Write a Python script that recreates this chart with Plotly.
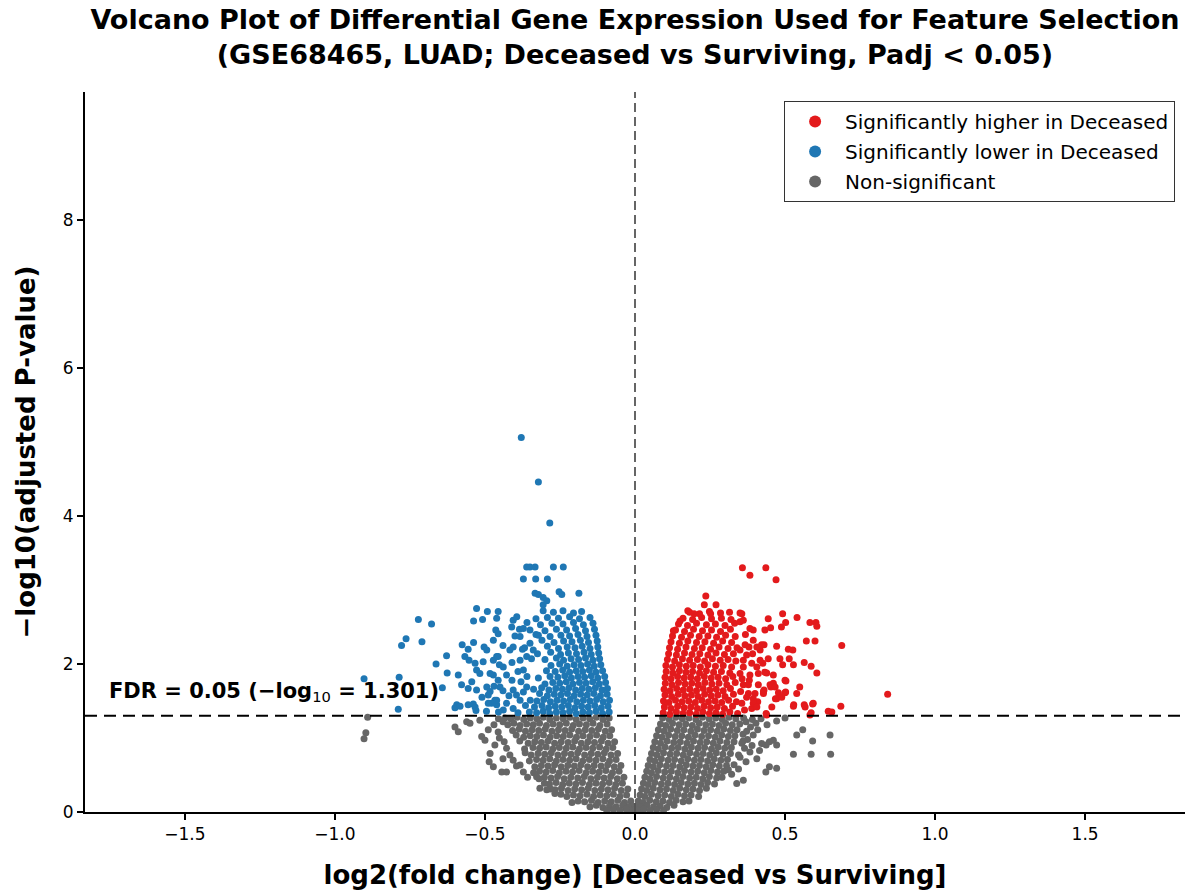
import plotly.graph_objects as go

# ---------------- DATA ----------------
# Non-significant genes: left wedge (negative log2FC)
ns_left = [
 (-0.086,1.27),(-0.107,1.25),(-0.129,1.28),(-0.151,1.26),(-0.173,1.27),(-0.196,1.25),(-0.217,1.28),(-0.239,1.26),(-0.262,1.27),(-0.284,1.25),(-0.306,1.28),(-0.327,1.26),(-0.349,1.27),(-0.371,1.25),(-0.393,1.28),(-0.414,1.26),(-0.434,1.27),
 (-0.093,1.19),(-0.117,1.17),(-0.140,1.20),(-0.162,1.18),(-0.185,1.19),(-0.206,1.17),(-0.229,1.20),(-0.251,1.18),(-0.273,1.19),(-0.295,1.17),(-0.318,1.20),(-0.339,1.18),(-0.361,1.19),(-0.383,1.17),(-0.404,1.20),(-0.424,1.18),
 (-0.078,1.11),(-0.099,1.09),(-0.122,1.12),(-0.144,1.10),(-0.166,1.11),(-0.188,1.09),(-0.211,1.12),(-0.233,1.10),(-0.255,1.11),(-0.277,1.09),(-0.299,1.12),(-0.321,1.10),(-0.343,1.11),(-0.365,1.09),(-0.386,1.12),(-0.408,1.10),
 (-0.084,1.03),(-0.106,1.01),(-0.128,1.04),(-0.150,1.02),(-0.173,1.03),(-0.195,1.01),(-0.217,1.04),(-0.239,1.02),(-0.261,1.03),(-0.283,1.01),(-0.305,1.04),(-0.327,1.02),(-0.349,1.03),(-0.371,1.01),(-0.396,1.04),
 (-0.068,0.95),(-0.090,0.93),(-0.112,0.96),(-0.135,0.94),(-0.157,0.95),(-0.179,0.93),(-0.201,0.96),(-0.223,0.94),(-0.246,0.95),(-0.268,0.93),(-0.290,0.96),(-0.312,0.94),(-0.334,0.95),(-0.356,0.93),(-0.384,0.96),
 (-0.074,0.87),(-0.096,0.85),(-0.118,0.88),(-0.141,0.86),(-0.163,0.87),(-0.185,0.85),(-0.207,0.88),(-0.229,0.86),(-0.252,0.87),(-0.274,0.85),(-0.296,0.88),(-0.318,0.86),(-0.340,0.87),(-0.368,0.85),
 (-0.058,0.79),(-0.080,0.77),(-0.102,0.80),(-0.124,0.78),(-0.146,0.79),(-0.168,0.77),(-0.191,0.80),(-0.213,0.78),(-0.235,0.79),(-0.257,0.77),(-0.279,0.80),(-0.301,0.78),(-0.323,0.79),(-0.346,0.77),(-0.366,0.80),
 (-0.063,0.71),(-0.085,0.69),(-0.107,0.72),(-0.130,0.70),(-0.152,0.71),(-0.174,0.69),(-0.196,0.72),(-0.218,0.70),(-0.240,0.71),(-0.262,0.69),(-0.284,0.72),(-0.306,0.70),(-0.328,0.71),(-0.352,0.69),
 (-0.047,0.63),(-0.069,0.61),(-0.091,0.64),(-0.113,0.62),(-0.136,0.63),(-0.158,0.61),(-0.180,0.64),(-0.202,0.62),(-0.224,0.63),(-0.246,0.61),(-0.268,0.64),(-0.290,0.62),(-0.312,0.63),(-0.334,0.61),
 (-0.053,0.55),(-0.075,0.53),(-0.097,0.56),(-0.119,0.54),(-0.141,0.55),(-0.163,0.53),(-0.186,0.56),(-0.208,0.54),(-0.230,0.55),(-0.252,0.53),(-0.274,0.56),(-0.296,0.54),(-0.318,0.55),(-0.338,0.53),
 (-0.037,0.47),(-0.059,0.45),(-0.081,0.48),(-0.103,0.46),(-0.125,0.47),(-0.147,0.45),(-0.169,0.48),(-0.191,0.46),(-0.214,0.47),(-0.236,0.45),(-0.258,0.48),(-0.280,0.46),(-0.302,0.47),(-0.320,0.45),
 (-0.042,0.39),(-0.064,0.37),(-0.086,0.40),(-0.108,0.38),(-0.130,0.39),(-0.152,0.37),(-0.175,0.40),(-0.197,0.38),(-0.219,0.39),(-0.241,0.37),(-0.263,0.40),(-0.285,0.38),(-0.302,0.39),
 (-0.024,0.31),(-0.046,0.29),(-0.068,0.32),(-0.090,0.30),(-0.112,0.31),(-0.134,0.29),(-0.156,0.32),(-0.178,0.30),(-0.201,0.31),(-0.223,0.29),(-0.245,0.32),(-0.266,0.30),(-0.281,0.31),
 (-0.028,0.23),(-0.050,0.21),(-0.072,0.24),(-0.094,0.22),(-0.116,0.23),(-0.138,0.21),(-0.160,0.24),(-0.183,0.22),(-0.205,0.23),(-0.227,0.21),(-0.247,0.24),
 (-0.014,0.15),(-0.035,0.13),(-0.057,0.16),(-0.079,0.14),(-0.101,0.15),(-0.123,0.13),(-0.145,0.16),(-0.168,0.14),(-0.190,0.15),(-0.210,0.13),
 (-0.008,0.08),(-0.022,0.07),(-0.041,0.09),(-0.063,0.07),(-0.085,0.08),(-0.107,0.06),(-0.129,0.09),(-0.150,0.07),
 (-0.004,0.03),(-0.015,0.02),(-0.030,0.04),(-0.050,0.02),(-0.072,0.03),(-0.094,0.02),
]

# Non-significant genes: scattered points left of the wedge
ns_left_out = [
 (-0.891,1.28),(-0.897,1.07),(-0.903,0.99),(-0.600,1.15),(-0.589,1.085),(-0.550,1.20),(-0.517,1.24),
 (-0.561,1.22),(-0.511,1.02),(-0.500,0.97),(-0.483,0.79),(-0.486,0.68),(-0.472,0.61),(-0.444,0.54),
 (-0.428,0.54),(-0.489,1.11),(-0.456,1.08),(-0.467,0.905),(-0.428,0.86),(-0.417,0.77),(-0.406,0.70),
 (-0.383,0.635),(-0.372,0.54),(-0.328,0.475),(-0.317,0.32),(-0.294,0.30),(-0.267,0.25),(-0.455,1.26),
 (-0.470,1.18),(-0.440,1.22),(-0.452,1.00),(-0.436,0.95),(-0.440,0.72),(-0.395,0.62),(-0.358,0.47),
]

# Non-significant genes: right wedge (positive log2FC)
ns_right = [
 (0.092,1.27),(0.114,1.25),(0.136,1.28),(0.158,1.26),(0.180,1.27),(0.203,1.25),(0.225,1.28),(0.247,1.26),(0.269,1.27),(0.291,1.25),(0.313,1.28),(0.336,1.26),(0.362,1.27),(0.391,1.25),
 (0.085,1.19),(0.103,1.17),(0.125,1.20),(0.147,1.18),(0.169,1.19),(0.191,1.17),(0.214,1.20),(0.236,1.18),(0.258,1.19),(0.280,1.17),(0.302,1.20),(0.324,1.18),(0.349,1.19),
 (0.078,1.11),(0.097,1.09),(0.119,1.12),(0.141,1.10),(0.163,1.11),(0.186,1.09),(0.208,1.12),(0.230,1.10),(0.252,1.11),(0.274,1.09),(0.296,1.12),(0.318,1.10),(0.340,1.11),(0.372,1.09),
 (0.072,1.03),(0.090,1.01),(0.112,1.04),(0.134,1.02),(0.156,1.03),(0.178,1.01),(0.200,1.04),(0.222,1.02),(0.245,1.03),(0.267,1.01),(0.289,1.04),(0.311,1.02),(0.333,1.03),
 (0.066,0.95),(0.085,0.93),(0.107,0.96),(0.129,0.94),(0.151,0.95),(0.173,0.93),(0.195,0.96),(0.217,0.94),(0.239,0.95),(0.261,0.93),(0.283,0.96),(0.306,0.94),(0.330,0.95),(0.356,0.93),
 (0.061,0.87),(0.078,0.85),(0.100,0.88),(0.122,0.86),(0.144,0.87),(0.166,0.85),(0.188,0.88),(0.210,0.86),(0.232,0.87),(0.255,0.85),(0.277,0.88),(0.299,0.86),(0.321,0.87),
 (0.055,0.79),(0.073,0.77),(0.095,0.80),(0.117,0.78),(0.139,0.79),(0.161,0.77),(0.183,0.80),(0.205,0.78),(0.227,0.79),(0.249,0.77),(0.271,0.80),(0.293,0.78),(0.318,0.79),(0.345,0.77),
 (0.050,0.71),(0.066,0.69),(0.088,0.72),(0.110,0.70),(0.132,0.71),(0.154,0.69),(0.176,0.72),(0.198,0.70),(0.220,0.71),(0.242,0.69),(0.264,0.72),(0.286,0.70),(0.308,0.71),
 (0.044,0.63),(0.061,0.61),(0.083,0.64),(0.105,0.62),(0.127,0.63),(0.149,0.61),(0.171,0.64),(0.193,0.62),(0.215,0.63),(0.237,0.61),(0.259,0.64),(0.281,0.62),(0.305,0.63),
 (0.039,0.55),(0.055,0.53),(0.077,0.56),(0.099,0.54),(0.121,0.55),(0.143,0.53),(0.165,0.56),(0.187,0.54),(0.209,0.55),(0.231,0.53),(0.253,0.56),(0.275,0.54),(0.296,0.55),
 (0.033,0.47),(0.050,0.45),(0.072,0.48),(0.094,0.46),(0.116,0.47),(0.138,0.45),(0.160,0.48),(0.182,0.46),(0.204,0.47),(0.226,0.45),(0.248,0.48),(0.272,0.46),(0.290,0.47),
 (0.028,0.39),(0.044,0.37),(0.066,0.40),(0.088,0.38),(0.110,0.39),(0.132,0.37),(0.154,0.40),(0.176,0.38),(0.198,0.39),(0.220,0.37),(0.242,0.40),(0.265,0.38),
 (0.022,0.31),(0.039,0.29),(0.061,0.32),(0.083,0.30),(0.105,0.31),(0.127,0.29),(0.149,0.32),(0.171,0.30),(0.193,0.31),(0.215,0.29),(0.238,0.32),
 (0.017,0.23),(0.033,0.21),(0.055,0.24),(0.077,0.22),(0.099,0.23),(0.121,0.21),(0.143,0.24),(0.165,0.22),(0.187,0.23),(0.212,0.21),
 (0.011,0.15),(0.027,0.13),(0.049,0.16),(0.071,0.14),(0.093,0.15),(0.115,0.13),(0.137,0.16),(0.160,0.14),(0.180,0.15),
 (0.006,0.08),(0.020,0.07),(0.040,0.09),(0.062,0.07),(0.084,0.08),(0.106,0.06),(0.130,0.09),
 (0.003,0.03),(0.014,0.02),(0.030,0.04),(0.050,0.02),(0.072,0.03),(0.095,0.02),
]

# Non-significant genes: scattered points right of the wedge
ns_right_out = [
 (0.500,1.27),(0.472,1.23),(0.559,1.11),(0.539,1.04),(0.650,1.04),(0.592,0.96),(0.528,0.78),(0.587,0.78),
 (0.652,0.78),(0.472,0.905),(0.461,0.97),(0.448,0.95),(0.437,0.905),(0.422,0.925),(0.409,1.11),(0.394,1.04),
 (0.403,1.20),(0.472,0.59),(0.448,0.61),(0.436,0.54),(0.406,0.72),(0.383,0.81),(0.361,0.43),(0.339,0.385),
 (0.322,0.51),(0.311,0.57),(0.370,1.22),(0.385,1.15),(0.360,1.05),(0.375,0.98),(0.390,0.90),(0.365,0.86),
 (0.350,0.74),(0.370,0.68),(0.330,0.64),(0.345,0.58),(0.420,1.26),(0.440,1.18),(0.415,0.83),(0.360,0.96),
]

# Significantly lower in Deceased: dense core
down_core = [
 (-0.086,1.35),(-0.108,1.33),(-0.130,1.36),(-0.152,1.34),(-0.174,1.35),(-0.196,1.33),(-0.218,1.36),(-0.240,1.34),(-0.262,1.35),(-0.284,1.33),(-0.306,1.36),(-0.328,1.34),(-0.352,1.35),
 (-0.090,1.43),(-0.112,1.41),(-0.134,1.44),(-0.156,1.42),(-0.178,1.43),(-0.200,1.41),(-0.222,1.44),(-0.244,1.42),(-0.266,1.43),(-0.288,1.41),(-0.310,1.44),(-0.335,1.42),
 (-0.085,1.51),(-0.106,1.49),(-0.128,1.52),(-0.150,1.50),(-0.172,1.51),(-0.194,1.49),(-0.216,1.52),(-0.238,1.50),(-0.260,1.51),(-0.282,1.49),(-0.304,1.52),(-0.327,1.50),(-0.349,1.51),
 (-0.093,1.59),(-0.115,1.57),(-0.137,1.60),(-0.159,1.58),(-0.181,1.59),(-0.203,1.57),(-0.225,1.60),(-0.247,1.58),(-0.269,1.59),(-0.292,1.57),(-0.318,1.60),
 (-0.092,1.67),(-0.110,1.65),(-0.132,1.68),(-0.154,1.66),(-0.176,1.67),(-0.198,1.65),(-0.220,1.68),(-0.242,1.66),(-0.264,1.67),(-0.287,1.65),(-0.311,1.68),(-0.338,1.66),
 (-0.098,1.75),(-0.119,1.73),(-0.141,1.76),(-0.163,1.74),(-0.185,1.75),(-0.207,1.73),(-0.229,1.76),(-0.251,1.74),(-0.274,1.75),(-0.300,1.73),
 (-0.101,1.83),(-0.124,1.81),(-0.146,1.84),(-0.168,1.82),(-0.190,1.83),(-0.212,1.81),(-0.234,1.84),(-0.257,1.82),(-0.283,1.83),(-0.322,1.81),
 (-0.108,1.91),(-0.130,1.89),(-0.152,1.92),(-0.174,1.90),(-0.196,1.91),(-0.218,1.89),(-0.241,1.92),(-0.266,1.90),(-0.295,1.91),
 (-0.114,1.99),(-0.136,1.97),(-0.158,2.00),(-0.180,1.98),(-0.203,1.99),(-0.226,1.97),(-0.251,2.00),(-0.280,1.98),
]

# Significantly lower in Deceased: upper part of the cloud
down_mid = [
 (-0.118,2.07),(-0.140,2.05),(-0.165,2.08),(-0.188,2.06),(-0.213,2.07),(-0.238,2.05),(-0.262,2.08),(-0.300,2.06),(-0.345,2.07),
 (-0.121,2.15),(-0.146,2.13),(-0.170,2.16),(-0.195,2.14),(-0.222,2.15),(-0.248,2.13),(-0.281,2.16),(-0.325,2.14),
 (-0.124,2.23),(-0.150,2.21),(-0.176,2.24),(-0.200,2.22),(-0.226,2.23),(-0.255,2.21),(-0.292,2.24),(-0.368,2.22),
 (-0.126,2.31),(-0.155,2.29),(-0.182,2.32),(-0.210,2.30),(-0.238,2.31),(-0.270,2.29),(-0.310,2.32),
 (-0.130,2.39),(-0.160,2.37),(-0.190,2.40),(-0.218,2.38),(-0.247,2.39),(-0.283,2.37),(-0.330,2.40),(-0.400,2.38),
 (-0.135,2.47),(-0.165,2.45),(-0.198,2.48),(-0.228,2.46),(-0.262,2.47),(-0.300,2.45),(-0.385,2.47),
 (-0.140,2.55),(-0.172,2.53),(-0.205,2.56),(-0.240,2.54),(-0.277,2.55),(-0.315,2.53),(-0.360,2.56),
 (-0.150,2.63),(-0.185,2.61),(-0.218,2.64),(-0.255,2.62),(-0.292,2.63),(-0.330,2.61),
 (-0.178,2.71),(-0.205,2.69),(-0.240,2.72),(-0.272,2.70),(-0.306,2.72),
]

# Significantly lower in Deceased: sparse points on the far left
down_left = [
 (-0.528,2.75),(-0.492,2.71),(-0.538,2.58),(-0.508,2.60),(-0.461,2.62),(-0.464,2.46),(-0.722,2.60),(-0.678,2.54),
 (-0.763,2.34),(-0.778,2.25),(-0.710,2.30),(-0.663,2.00),(-0.628,2.11),(-0.576,2.26),(-0.538,2.29),(-0.556,2.20),
 (-0.567,2.10),(-0.553,2.05),(-0.533,2.01),(-0.506,2.03),(-0.503,2.23),(-0.494,2.19),(-0.528,1.92),(-0.517,1.87),
 (-0.472,1.85),(-0.461,2.10),(-0.626,1.88),(-0.589,1.85),(-0.578,1.72),(-0.544,1.76),(-0.556,1.67),(-0.528,1.65),
 (-0.494,1.69),(-0.483,1.63),(-0.642,1.68),(-0.594,1.45),(-0.600,1.41),(-0.583,1.43),(-0.556,1.45),(-0.539,1.46),
 (-0.533,1.42),(-0.786,1.82),(-0.903,1.80),(-0.789,1.39),(-0.489,1.58),(-0.467,1.51),(-0.461,1.45),(-0.478,1.47),
 (-0.456,1.78),(-0.452,1.99),(-0.472,2.32),(-0.456,2.41),(-0.456,2.71),(-0.406,2.59),(-0.394,2.64),(-0.383,2.37),
 (-0.411,2.50),(-0.372,2.48),(-0.406,2.23),(-0.417,2.19),(-0.472,2.05),(-0.456,2.10),(-0.439,1.96),(-0.483,1.87),
 (-0.428,1.85),(-0.383,2.05),(-0.372,1.92),(-0.450,1.69),(-0.406,1.65),(-0.361,1.69),(-0.461,1.51),(-0.428,1.47),
 (-0.383,1.51),(-0.439,1.38),(-0.406,1.40),(-0.489,1.47),(-0.350,2.28),(-0.339,2.19),(-0.361,2.10),(-0.350,2.46),
 (-0.322,2.39),(-0.395,1.58),(-0.372,1.62),(-0.380,1.76),(-0.410,1.78),(-0.365,1.44),(-0.390,1.34),(-0.420,1.57),
 (-0.440,1.64),(-0.470,1.70),(-0.510,1.55),(-0.495,1.36),(-0.530,1.37),(-0.455,1.35),(-0.360,1.83),(-0.390,1.90),
 (-0.410,2.02),(-0.375,2.20),(-0.440,2.25),
]

# Significantly lower in Deceased: highest points
down_top = [
 (-0.379,5.06),(-0.322,4.46),(-0.284,3.905),(-0.361,3.31),(-0.350,3.31),(-0.333,3.31),(-0.272,3.31),(-0.239,3.31),
 (-0.372,3.15),(-0.331,3.15),(-0.292,3.15),(-0.333,2.955),(-0.322,2.94),(-0.306,2.90),(-0.294,2.855),
 (-0.253,2.975),(-0.244,2.94),(-0.187,2.955),(-0.306,2.80),
]

# Significantly higher in Deceased: dense core
up_core = [
 (0.094,1.34),(0.116,1.32),(0.138,1.35),(0.160,1.33),(0.182,1.34),(0.204,1.32),(0.226,1.35),(0.248,1.33),(0.270,1.34),(0.292,1.32),(0.316,1.35),(0.342,1.33),
 (0.098,1.42),(0.120,1.40),(0.142,1.43),(0.164,1.41),(0.186,1.42),(0.208,1.40),(0.230,1.43),(0.252,1.41),(0.274,1.42),(0.298,1.40),(0.325,1.43),
 (0.095,1.50),(0.113,1.48),(0.135,1.51),(0.157,1.49),(0.179,1.50),(0.201,1.48),(0.223,1.51),(0.245,1.49),(0.267,1.50),(0.289,1.48),(0.312,1.51),(0.338,1.49),
 (0.100,1.58),(0.122,1.56),(0.144,1.59),(0.166,1.57),(0.188,1.58),(0.210,1.56),(0.232,1.59),(0.254,1.57),(0.276,1.58),(0.300,1.56),(0.328,1.59),
 (0.097,1.66),(0.117,1.64),(0.139,1.67),(0.161,1.65),(0.183,1.66),(0.205,1.64),(0.227,1.67),(0.249,1.65),(0.271,1.66),(0.294,1.64),(0.318,1.67),
 (0.101,1.74),(0.123,1.72),(0.145,1.75),(0.167,1.73),(0.189,1.74),(0.211,1.72),(0.233,1.75),(0.256,1.73),(0.280,1.74),(0.306,1.72),(0.334,1.75),
 (0.100,1.82),(0.120,1.80),(0.142,1.83),(0.164,1.81),(0.186,1.82),(0.208,1.80),(0.231,1.83),(0.254,1.81),(0.277,1.82),(0.302,1.80),(0.326,1.83),
 (0.104,1.90),(0.126,1.88),(0.148,1.91),(0.170,1.89),(0.192,1.90),(0.215,1.88),(0.238,1.91),(0.262,1.89),(0.288,1.90),(0.316,1.88),
 (0.103,1.98),(0.125,1.96),(0.148,1.99),(0.171,1.97),(0.194,1.98),(0.218,1.96),(0.243,1.99),(0.268,1.97),(0.294,1.98),(0.322,1.96),
]

# Significantly higher in Deceased: upper part of the cloud
up_mid = [
 (0.108,2.06),(0.132,2.04),(0.158,2.07),(0.182,2.05),(0.208,2.06),(0.232,2.04),(0.258,2.07),(0.284,2.05),(0.310,2.06),(0.336,2.04),
 (0.112,2.14),(0.138,2.12),(0.165,2.15),(0.190,2.13),(0.216,2.14),(0.243,2.12),(0.270,2.15),(0.298,2.13),(0.328,2.14),
 (0.115,2.22),(0.142,2.20),(0.170,2.23),(0.198,2.21),(0.224,2.22),(0.252,2.20),(0.280,2.23),(0.310,2.21),(0.340,2.22),
 (0.120,2.30),(0.148,2.28),(0.176,2.31),(0.205,2.29),(0.233,2.30),(0.262,2.28),(0.292,2.31),(0.322,2.29),
 (0.125,2.38),(0.155,2.36),(0.185,2.39),(0.214,2.37),(0.243,2.38),(0.272,2.36),(0.302,2.39),(0.334,2.37),
 (0.135,2.46),(0.165,2.44),(0.195,2.47),(0.225,2.45),(0.255,2.46),(0.285,2.44),(0.318,2.47),
 (0.145,2.54),(0.175,2.52),(0.205,2.55),(0.238,2.53),(0.268,2.54),(0.300,2.52),(0.332,2.55),
 (0.160,2.62),(0.192,2.60),(0.222,2.63),(0.255,2.61),(0.288,2.62),(0.320,2.60),
 (0.182,2.70),(0.215,2.68),(0.248,2.71),(0.285,2.69),(0.315,2.70),
]

# Significantly higher in Deceased: sparse points on the right
up_right = [
 (0.842,1.59),(0.689,2.25),(0.686,1.43),(0.656,1.35),(0.644,1.36),(0.603,2.56),(0.606,2.51),(0.583,2.56),
 (0.571,2.31),(0.600,2.31),(0.606,1.88),(0.587,1.97),(0.564,2.02),(0.540,2.63),(0.549,1.69),(0.539,1.60),
 (0.529,1.45),(0.564,1.45),(0.592,1.46),(0.587,1.34),(0.492,2.68),(0.502,2.56),(0.488,2.50),(0.444,2.61),
 (0.452,2.49),(0.511,2.20),(0.526,2.19),(0.514,2.07),(0.528,1.99),(0.472,2.24),(0.483,2.07),(0.492,1.99),
 (0.503,1.77),(0.502,1.62),(0.483,1.56),(0.468,1.53),(0.456,1.42),(0.437,1.33),(0.428,1.60),(0.461,1.74),
 (0.439,1.88),(0.430,2.26),(0.433,2.46),(0.417,2.19),(0.406,2.23),(0.426,2.01),(0.444,2.07),(0.453,1.69),
 (0.430,1.65),(0.409,1.49),(0.389,1.40),(0.400,1.60),(0.381,1.78),(0.406,1.96),(0.392,2.14),(0.380,2.23),
 (0.361,1.96),(0.350,2.57),(0.356,2.68),(0.350,2.69),(0.361,2.59),(0.383,2.48),(0.394,2.46),(0.350,2.19),
 (0.367,2.26),(0.394,2.32),(0.422,2.26),(0.361,2.05),(0.389,2.01),(0.417,2.05),(0.350,1.87),(0.383,1.85),
 (0.411,1.87),(0.433,1.89),(0.461,1.85),(0.500,1.78),(0.361,1.72),(0.378,1.72),(0.411,1.72),(0.428,1.63),
 (0.450,1.72),(0.467,1.69),(0.378,1.60),(0.394,1.53),(0.478,1.61),(0.500,1.61),(0.356,1.47),(0.394,1.47),
 (0.406,1.42),(0.472,1.53),(0.489,1.55),(0.528,1.43),(0.567,1.42),(0.594,1.47),(0.439,1.31),(0.583,1.31),
 (0.365,1.38),(0.372,1.55),(0.352,1.63),(0.368,2.40),(0.372,2.12),(0.357,1.80),
]

# Significantly higher in Deceased: highest points
up_top = [
 (0.358,3.30),(0.436,3.30),(0.383,3.20),(0.470,3.14),(0.236,2.92),(0.128,2.45),(0.150,2.58),(0.176,2.72),
 (0.231,2.80),(0.270,2.80),(0.197,2.68),(0.252,2.68),
]

# Axis ticks
x_tick_vals = [-1.5, -1.0, -0.5, 0.0, 0.5, 1.0, 1.5]
x_tick_text = ["\u22121.5", "\u22121.0", "\u22120.5", "0.0", "0.5", "1.0", "1.5"]
y_tick_vals = [0, 2, 4, 6, 8]
y_tick_text = ["0", "2", "4", "6", "8"]

fdr_threshold = 1.301

# ---------------- FIGURE ----------------
RED = "#e31a1c"
BLUE = "#1f77b4"
GRAY = "#666666"
FONT = "DejaVu Sans"
MSIZE = 7


def xs(pts):
    return [p[0] for p in pts]


def ys(pts):
    return [p[1] for p in pts]


ns_pts = ns_left + ns_left_out + ns_right + ns_right_out
down_pts = down_core + down_mid + down_left + down_top
up_pts = up_core + up_mid + up_right + up_top

fig = go.Figure()
fig.add_trace(go.Scatter(x=xs(ns_pts), y=ys(ns_pts), mode="markers", name="Non-significant",
                         legendgroup="ns", legendrank=3,
                         marker=dict(color=GRAY, size=MSIZE, line=dict(width=0))))
fig.add_trace(go.Scatter(x=xs(down_pts), y=ys(down_pts), mode="markers", name="Significantly lower in Deceased",
                         legendgroup="down", legendrank=2,
                         marker=dict(color=BLUE, size=MSIZE, line=dict(width=0))))
fig.add_trace(go.Scatter(x=xs(up_pts), y=ys(up_pts), mode="markers", name="Significantly higher in Deceased",
                         legendgroup="up", legendrank=1,
                         marker=dict(color=RED, size=MSIZE, line=dict(width=0))))

fig.add_shape(type="line", xref="x", yref="paper", x0=0, x1=0, y0=0, y1=1,
              line=dict(color="#555555", width=1.8, dash="9px,5px"), layer="above")
fig.add_shape(type="line", xref="paper", yref="y", x0=0, x1=1, y0=fdr_threshold, y1=fdr_threshold,
              line=dict(color="black", width=2, dash="12px,7px"), layer="above")

fig.add_annotation(x=-1.76, y=1.62, xref="x", yref="y", xanchor="left", yanchor="middle",
                   showarrow=False,
                   text="<b>FDR = 0.05 (\u2212log</b><sub>10</sub><b> = 1.301)</b>",
                   font=dict(family=FONT, size=21, color="black"))

fig.update_layout(
    width=1196, height=893, autosize=False,
    margin=dict(l=85, r=11, t=92, b=81),
    paper_bgcolor="white", plot_bgcolor="white",
    font=dict(family=FONT, color="black"),
    title=dict(
        text="<b>Volcano Plot of Differential Gene Expression Used for Feature Selection<br>"
             "(GSE68465, LUAD; Deceased vs Surviving, Padj &lt; 0.05)</b>",
        x=0.5, xref="paper", xanchor="center",
        y=0.968, yref="container", yanchor="top",
        font=dict(family=FONT, size=27, color="black"),
    ),
    xaxis=dict(
        range=[-1.833, 1.833], showgrid=False, zeroline=False, automargin=False,
        showline=True, linecolor="black", linewidth=2,
        ticks="outside", ticklen=6, tickwidth=1.5, tickcolor="black",
        tickvals=x_tick_vals, ticktext=x_tick_text,
        tickfont=dict(family=FONT, size=17, color="black"),
        title=dict(text="<b>log2(fold change) [Deceased vs Surviving]</b>",
                   font=dict(family=FONT, size=26, color="black"), standoff=22),
    ),
    yaxis=dict(
        range=[0, 9.73], showgrid=False, zeroline=False, automargin=False,
        showline=True, linecolor="black", linewidth=2,
        ticks="outside", ticklen=6, tickwidth=1.5, tickcolor="black",
        tickvals=y_tick_vals, ticktext=y_tick_text,
        tickfont=dict(family=FONT, size=17, color="black"),
        title=dict(text="<b>\u2212log10(adjusted P-value)</b>",
                   font=dict(family=FONT, size=26, color="black"), standoff=20),
    ),
    legend=dict(
        x=0.991, y=0.9875, xref="paper", yref="paper", xanchor="right", yanchor="top",
        bgcolor="white", bordercolor="#333333", borderwidth=1,
        font=dict(family=FONT, size=20, color="black"),
        itemsizing="constant", traceorder="grouped", tracegroupgap=1,
        itemwidth=50,
    ),
    showlegend=True,
)

fig.write_html("out.html")
